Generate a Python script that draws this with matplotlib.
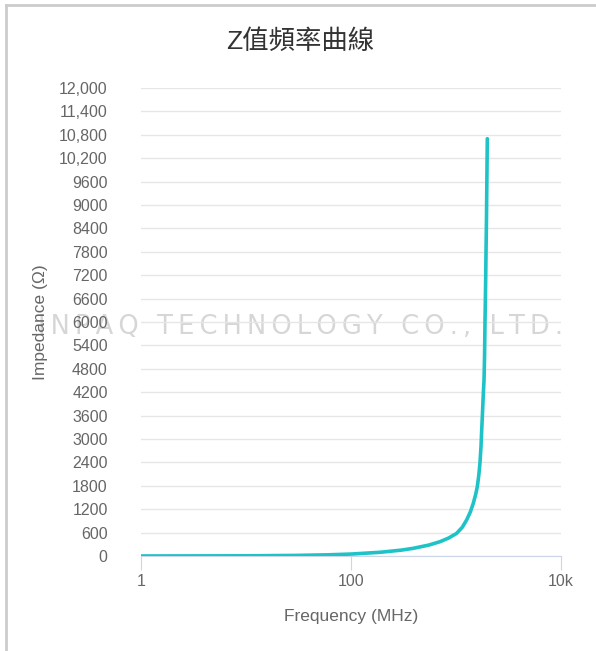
import matplotlib.pyplot as plt
from matplotlib.lines import Line2D
from matplotlib.ticker import FixedLocator, FuncFormatter

plt.rcParams['font.family'] = ['Liberation Sans', 'Noto Sans CJK TC', 'DejaVu Sans']

# impedance curve
freq_mhz = [1, 10, 30, 60, 100, 189, 300, 392, 550, 704, 850, 1015, 1150,
            1262, 1370, 1461, 1540, 1596, 1650, 1693, 1730, 1757, 1790, 1821,
            1848, 1870, 1890, 1915, 1931, 1950, 1965, 1987]
impedance = [0.5, 5, 15, 30, 50, 95, 150, 197, 280, 367, 460, 581, 740,
             923, 1130, 1351, 1580, 1778, 2080, 2400, 2800, 3231, 3700, 4171,
             4500, 5100, 6051, 7000, 7770, 8600, 9470, 10700]

y_ticks = list(range(0, 12001, 600))
x_ticks = [1, 100, 10000]
x_tick_labels = ['1', '100', '10k']

fig = plt.figure(figsize=(5.96, 6.51), dpi=100)
ax = fig.add_axes([141 / 596, 1 - 556 / 651, 420 / 596, 468 / 651])

# card border (top and left only)
fig.add_artist(Line2D([6 / 596, 6 / 596], [0, 1 - 5 / 651], color='#cccccc', lw=2))
fig.add_artist(Line2D([6 / 596, 1], [1 - 5 / 651, 1 - 5 / 651], color='#cccccc', lw=2))

# watermark, drawn under the axes
wm = '\u2009'.join('INPAQ TECHNOLOGY CO., LTD.')
fig.text(300 / 596, 1 - 327 / 651, wm, ha='center', va='center', fontsize=18.5,
         color='#d6d6d6', family=['DejaVu Sans'], zorder=-1)

ax.plot(freq_mhz, impedance, color='#1ec3c8', lw=2.6, solid_capstyle='round',
        solid_joinstyle='round', zorder=3)

ax.set_xscale('log')
ax.set_xlim(1, 10000)
ax.set_ylim(0, 12000)
ax.xaxis.set_major_locator(FixedLocator(x_ticks))
ax.xaxis.set_minor_locator(FixedLocator([]))
ax.set_xticklabels(x_tick_labels)
ax.yaxis.set_major_locator(FixedLocator(y_ticks))
ax.yaxis.set_major_formatter(FuncFormatter(lambda v, p: f'{int(v):,}' if v >= 10000 else f'{int(v)}'))

ax.patch.set_alpha(0)
ax.grid(axis='y', color='#e6e6e6', lw=1)
ax.set_axisbelow(True)
for s in ['top', 'right', 'left']:
    ax.spines[s].set_visible(False)
ax.spines['bottom'].set_color('#ccd6eb')
ax.tick_params(axis='x', length=10, color='#ccd6eb', labelsize=11.5, labelcolor='#666666', pad=3)
ax.tick_params(axis='y', length=0, labelsize=11.5, labelcolor='#666666', pad=24)

ax.set_xlabel('Frequency (MHz)', fontsize=12.5, color='#666666', labelpad=14)
ax.set_ylabel('Impedance (Ω)', fontsize=12.5, color='#666666', labelpad=8)
fig.text(300 / 596, 1 - 42 / 651, 'Z值頻率曲線', ha='center', va='center',
         fontsize=19, color='#333333')

fig.savefig('out.png', dpi=100)
